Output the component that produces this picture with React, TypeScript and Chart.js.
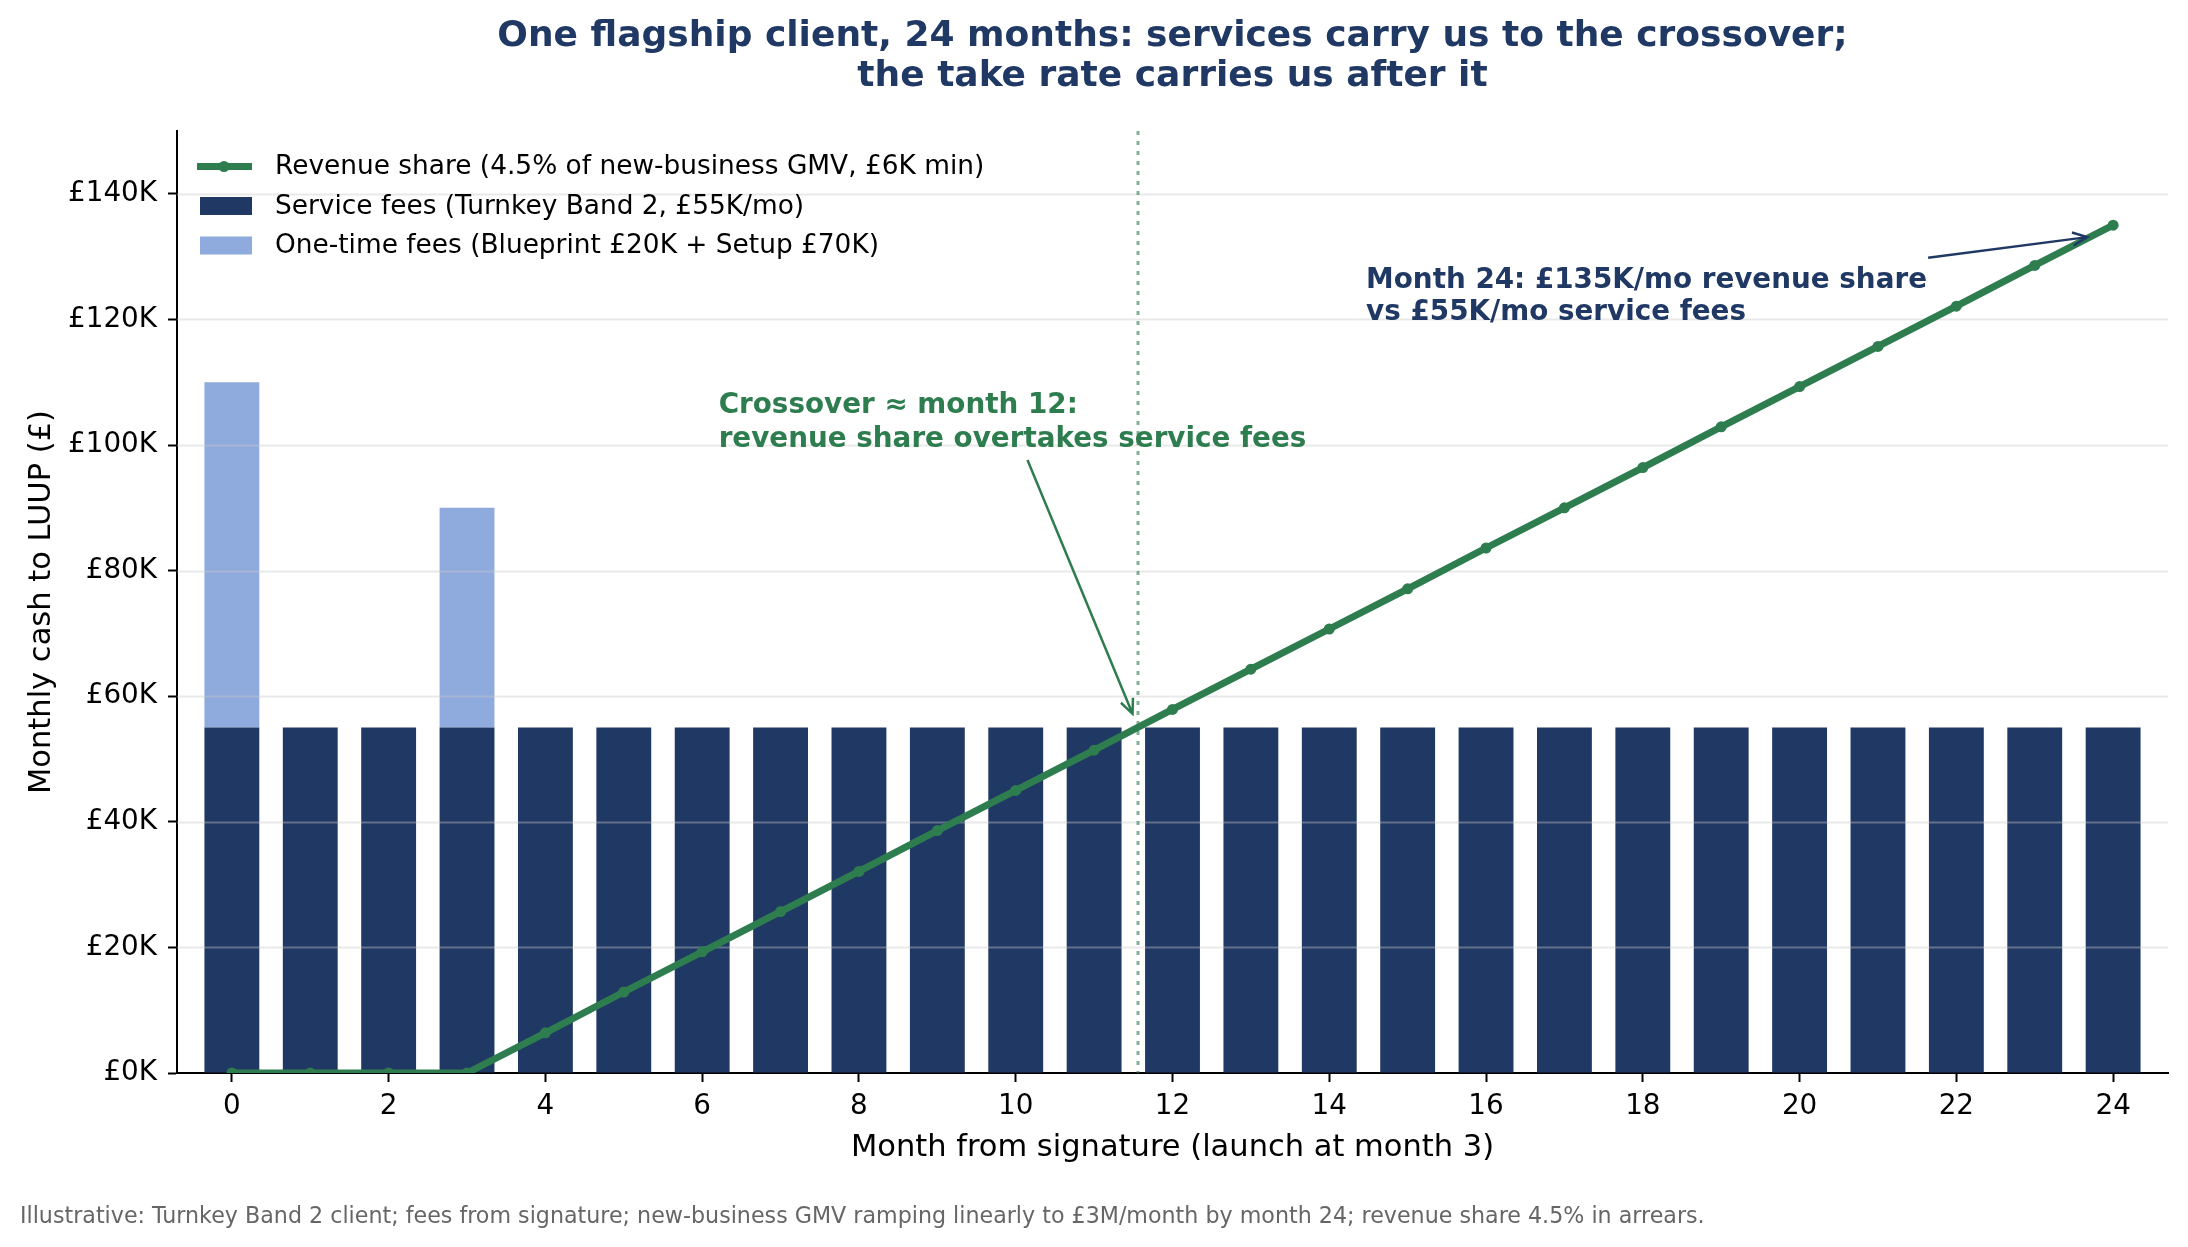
import React, { useEffect, useRef } from "react";
import { Chart, registerables } from "chart.js";

Chart.register(...registerables);

// Months since signature
const months = [0, 1, 2, 3, 4, 5, 6, 7, 8, 9, 10, 11, 12, 13, 14, 15, 16, 17, 18, 19, 20, 21, 22, 23, 24];
// Monthly service fees, £K
const serviceFees = [55, 55, 55, 55, 55, 55, 55, 55, 55, 55, 55, 55, 55, 55, 55, 55, 55, 55, 55, 55, 55, 55, 55, 55, 55];
// One-time fees stacked on top of service fees, £K
const oneTimeFees = [55, null, null, 35, null, null, null, null, null, null, null, null, null, null, null, null, null, null, null, null, null, null, null, null, null];
// Revenue share, £K per month
const revenueShare = [0, 0, 0, 0, 6.4, 12.9, 19.3, 25.7, 32.1, 38.6, 45.0, 51.4, 57.9, 64.3, 70.7, 77.1, 83.6, 90.0, 96.4, 102.9, 109.3, 115.7, 122.1, 128.6, 135.0];

const xTicks = [0, 2, 4, 6, 8, 10, 12, 14, 16, 18, 20, 22, 24];
const yTicks = [0, 20, 40, 60, 80, 100, 120, 140];

const crossoverMonth = 11.56;

const legendLabels = [
  "Revenue share (4.5% of new-business GMV, £6K min)",
  "Service fees (Turnkey Band 2, £55K/mo)",
  "One-time fees (Blueprint £20K + Setup £70K)",
];
const titleLines = [
  "One flagship client, 24 months: services carry us to the crossover;",
  "the take rate carries us after it",
];
const crossoverNote = ["Crossover ≈ month 12:", "revenue share overtakes service fees"];
const month24Note = ["Month 24: £135K/mo revenue share", "vs £55K/mo service fees"];
const footnote =
  "Illustrative: Turnkey Band 2 client; fees from signature; new-business GMV ramping linearly to £3M/month by month 24; revenue share 4.5% in arrears.";

const GREEN = "#2e7d4f";
const NAVY = "#203864";
const LIGHT = "#8faadc";
const FONT = "'DejaVu Sans', sans-serif";

function arrow(ctx: CanvasRenderingContext2D, x1: number, y1: number, x2: number, y2: number, color: string) {
  ctx.save();
  ctx.strokeStyle = color;
  ctx.lineWidth = 2.5;
  ctx.beginPath();
  ctx.moveTo(x1, y1);
  ctx.lineTo(x2, y2);
  const a = Math.atan2(y2 - y1, x2 - x1);
  const h = 16;
  const spread = 0.42;
  ctx.moveTo(x2 - h * Math.cos(a - spread), y2 - h * Math.sin(a - spread));
  ctx.lineTo(x2, y2);
  ctx.lineTo(x2 - h * Math.cos(a + spread), y2 - h * Math.sin(a + spread));
  ctx.stroke();
  ctx.restore();
}

const decorations = {
  id: "decorations",
  beforeDatasetDraw(chart: any, args: any) {
    if (args.index !== 0) return;
    const { ctx, chartArea } = chart;
    const y = chart.scales.y;
    const x = chart.scales.x;
    ctx.save();
    // horizontal grid
    ctx.strokeStyle = "rgba(200,200,200,0.4)";
    ctx.lineWidth = 2;
    for (const v of yTicks.slice(1)) {
      const py = Math.round(y.getPixelForValue(v)) + 0.5;
      ctx.beginPath();
      ctx.moveTo(chartArea.left, py);
      ctx.lineTo(chartArea.right, py);
      ctx.stroke();
    }
    // crossover marker
    const cx = x.getPixelForValue(crossoverMonth);
    ctx.strokeStyle = "rgba(46,125,79,0.6)";
    ctx.lineWidth = 3;
    ctx.setLineDash([4, 6]);
    ctx.beginPath();
    ctx.moveTo(cx, chartArea.top);
    ctx.lineTo(cx, chartArea.bottom);
    ctx.stroke();
    ctx.restore();
  },
  afterDraw(chart: any) {
    const { ctx, chartArea } = chart;
    const x = chart.scales.x;
    const y = chart.scales.y;
    const midX = (chartArea.left + chartArea.right) / 2;
    ctx.save();
    ctx.textBaseline = "middle";

    // title
    ctx.fillStyle = NAVY;
    ctx.textAlign = "center";
    ctx.font = `bold 36px ${FONT}`;
    ctx.fillText(titleLines[0], midX, 37);
    ctx.fillText(titleLines[1], midX, 77);

    // axis titles
    ctx.fillStyle = "#000";
    ctx.font = `30.5px ${FONT}`;
    ctx.fillText("Month from signature (launch at month 3)", midX, 1148);
    ctx.save();
    ctx.translate(42, (chartArea.top + chartArea.bottom) / 2);
    ctx.rotate(-Math.PI / 2);
    ctx.fillText("Monthly cash to LUUP (£)", 0, 0);
    ctx.restore();

    // footnote
    ctx.textAlign = "left";
    ctx.fillStyle = "#666666";
    ctx.font = `22.2px ${FONT}`;
    ctx.fillText(footnote, 20, 1217);

    // legend
    const lx = 197;
    const rows = [166.5, 206, 245.5];
    ctx.font = `26.4px ${FONT}`;
    ctx.strokeStyle = GREEN;
    ctx.lineWidth = 7;
    ctx.beginPath();
    ctx.moveTo(lx, rows[0]);
    ctx.lineTo(lx + 55, rows[0]);
    ctx.stroke();
    ctx.fillStyle = GREEN;
    ctx.beginPath();
    ctx.arc(lx + 27, rows[0], 5.5, 0, Math.PI * 2);
    ctx.fill();
    ctx.fillStyle = NAVY;
    ctx.fillRect(lx + 3, rows[1] - 9, 52, 18);
    ctx.fillStyle = LIGHT;
    ctx.fillRect(lx + 3, rows[2] - 9, 52, 18);
    ctx.fillStyle = "#000";
    legendLabels.forEach((t, i) => ctx.fillText(t, 275, rows[i] + 1));

    // crossover annotation
    ctx.fillStyle = GREEN;
    ctx.font = `bold 27.8px ${FONT}`;
    const cTextX = x.getPixelForValue(6.21);
    ctx.fillText(crossoverNote[0], cTextX, y.getPixelForValue(106.3));
    ctx.fillText(crossoverNote[1], cTextX, y.getPixelForValue(100.9));
    arrow(ctx, x.getPixelForValue(10.15), y.getPixelForValue(97.6), x.getPixelForValue(11.49), y.getPixelForValue(57.2), GREEN);

    // month 24 annotation
    ctx.fillStyle = NAVY;
    const mTextX = x.getPixelForValue(14.47);
    ctx.fillText(month24Note[0], mTextX, y.getPixelForValue(126.2));
    ctx.fillText(month24Note[1], mTextX, y.getPixelForValue(121.1));
    arrow(ctx, x.getPixelForValue(21.64), y.getPixelForValue(129.8), x.getPixelForValue(23.67), y.getPixelForValue(133.1), NAVY);

    ctx.restore();
  },
};

export default function App() {
  const canvasRef = useRef<HTMLCanvasElement | null>(null);

  useEffect(() => {
    const canvas = canvasRef.current;
    if (!canvas) return;
    const chart = new Chart(canvas, {
      type: "bar",
      data: {
        datasets: [
          {
            type: "line",
            label: legendLabels[0],
            data: months.map((m, i) => ({ x: m, y: revenueShare[i] })),
            borderColor: GREEN,
            backgroundColor: GREEN,
            borderWidth: 7,
            pointRadius: 5.5,
            pointHoverRadius: 5.5,
            pointBackgroundColor: GREEN,
            pointBorderWidth: 0,
            stack: "line",
            order: 0,
            clip: 0,
          } as any,
          {
            type: "bar",
            label: legendLabels[1],
            data: months.map((m, i) => ({ x: m, y: serviceFees[i] })),
            backgroundColor: NAVY,
            borderWidth: 0,
            stack: "fees",
            order: 1,
            barPercentage: 0.7,
            categoryPercentage: 1,
          } as any,
          {
            type: "bar",
            label: legendLabels[2],
            data: months.map((m, i) => ({ x: m, y: oneTimeFees[i] })),
            backgroundColor: LIGHT,
            borderWidth: 0,
            stack: "fees",
            order: 2,
            barPercentage: 0.7,
            categoryPercentage: 1,
          } as any,
        ],
      },
      options: {
        responsive: false,
        animation: false,
        devicePixelRatio: 1,
        layout: { padding: { left: 0, top: 131, right: 20, bottom: 0 } },
        plugins: { legend: { display: false }, tooltip: { enabled: false }, title: { display: false } },
        scales: {
          x: {
            type: "linear",
            min: -0.7,
            max: 24.7,
            offset: false,
            afterFit: (s: any) => {
              s.height = 174;
            },
            afterBuildTicks: (s: any) => {
              s.ticks = xTicks.map((v) => ({ value: v }));
            },
            grid: { display: true, offset: false, drawOnChartArea: false, drawTicks: true, tickLength: 9, tickColor: "#000", tickWidth: 2 },
            border: { display: true, color: "#000", width: 2 },
            ticks: { color: "#000", font: { family: FONT, size: 27.8 }, padding: 8, maxRotation: 0, autoSkip: false },
          },
          y: {
            stacked: true,
            min: 0,
            max: 150,
            afterFit: (s: any) => {
              s.width = 177;
            },
            afterBuildTicks: (s: any) => {
              s.ticks = yTicks.map((v) => ({ value: v }));
            },
            grid: { display: true, drawOnChartArea: false, drawTicks: true, tickLength: 9, tickColor: "#000", tickWidth: 2 },
            border: { display: true, color: "#000", width: 2 },
            ticks: {
              color: "#000",
              font: { family: FONT, size: 27.8 },
              padding: 11,
              callback: (v: any) => `£${v}K`,
            },
          },
        },
      },
      plugins: [decorations],
    });
    return () => chart.destroy();
  }, []);

  return (
    <div style={{ position: "absolute", left: 0, top: 0, width: 2188, height: 1247, background: "#fff" }}>
      <canvas ref={canvasRef} width={2188} height={1247} />
    </div>
  );
}
